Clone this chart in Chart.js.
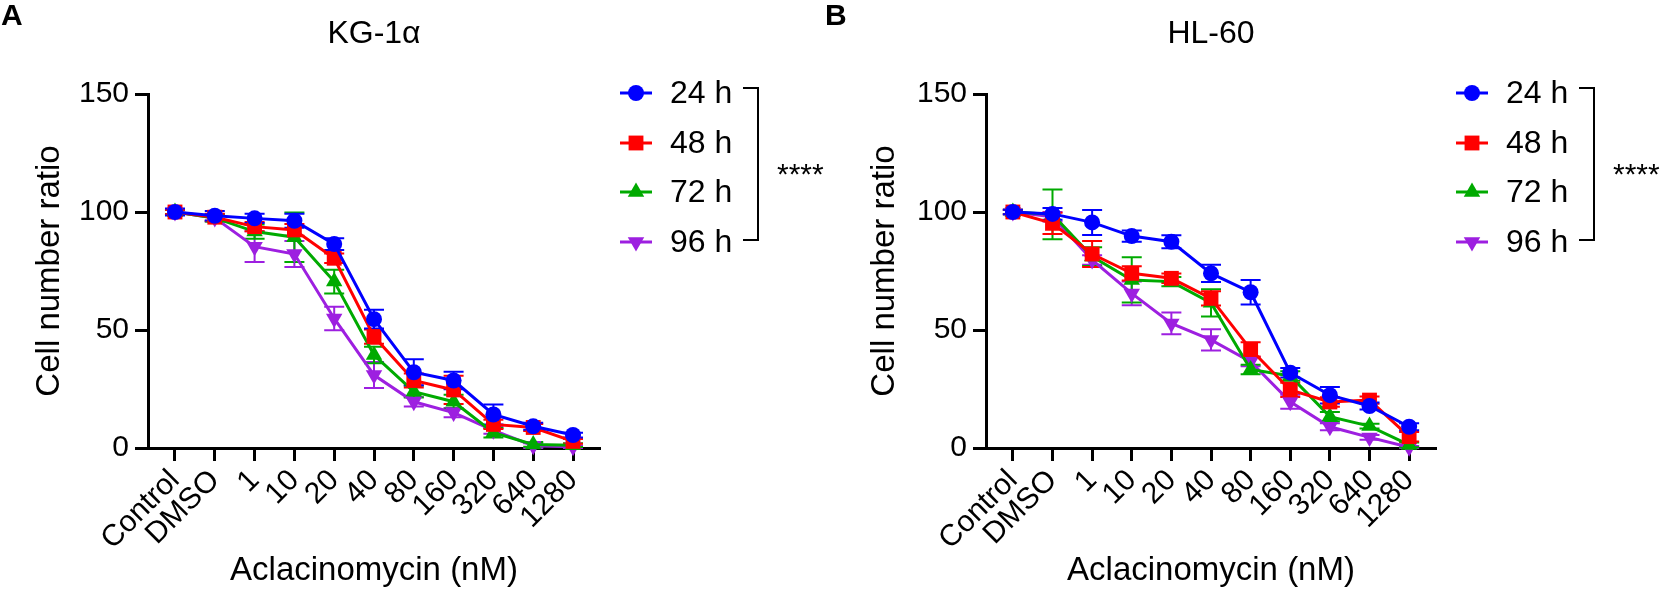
<!DOCTYPE html>
<html>
<head>
<meta charset="utf-8">
<script src="https://cdn.jsdelivr.net/npm/chart.js@4"></script>
<style>
  html, body { margin: 0; padding: 0; background: #fff; }
  body { width: 1661px; height: 591px; position: relative; overflow: hidden; }
  canvas { position: absolute; top: 0; }
</style>
</head>
<body>
<canvas id="chartA" width="830" height="591" style="left:0"></canvas>
<canvas id="chartB" width="871" height="591" style="left:790px"></canvas>
<script>
const categories = ['Control', 'DMSO', '1', '10', '20', '40', '80', '160', '320', '640', '1280'];
const seriesLabels = ['24 h', '48 h', '72 h', '96 h'];
const seriesColors = ['#0000ff', '#ff0000', '#00aa00', '#9d1fe0'];
const seriesStyles = ['circle', 'rect', 'triangle', 'triangle'];
const seriesRotation = [0, 0, 0, 180];
const seriesRadius = [8, 10.5, 9.5, 9.5];

// KG-1a
const kg24 = [100, 98.4, 97.3, 96.3, 86.4, 54.6, 32.1, 28.6, 14.2, 9.2, 5.5];
const kg48 = [100, 97.8, 93.8, 92.4, 80.4, 47.2, 28.6, 24.6, 10.0, 8.7, 2.8];
const kg72 = [100, 97.5, 91.7, 89.3, 70.5, 39.4, 23.9, 19.6, 6.5, 1.5, 1.2];
const kg96 = [100, 97.5, 85.3, 82.2, 54.9, 30.9, 19.6, 15.0, 7.5, 1.0, 0.5];
const kg24Err = [1.5, 2, 2, 3, 2.5, 4, 5.5, 3.7, 4.2, 1.5, 1];
const kg48Err = [1, 1.5, 2, 2.5, 2, 3, 3, 6, 2, 1.5, 1];
const kg72Err = [1, 1.5, 3, 10.5, 5, 3.5, 2.5, 3, 2, 1, 0.8];
const kg96Err = [1, 1.5, 6.5, 5.5, 5, 5.5, 2, 2, 1.5, 1, 0.5];

// HL-60
const hl24 = [100, 99.2, 95.6, 89.8, 87.4, 74.0, 66.0, 31.9, 22.4, 17.8, 9.0];
const hl48 = [100, 95.2, 82.2, 74.0, 71.9, 63.4, 41.8, 24.6, 19.5, 20.3, 4.8];
const hl72 = [100, 99.0, 81.1, 71.2, 70.5, 61.5, 33.3, 30.5, 13.3, 9.3, 1.3];
const hl96 = [100, 98.0, 79.7, 65.5, 52.8, 45.8, 36.6, 19.6, 9.0, 4.5, 0.3];
const hl24Err = [1, 2.5, 5.3, 2.4, 2.8, 3.7, 5.2, 2, 3.5, 1.5, 1.5];
const hl48Err = [1, 4.5, 5.5, 3, 2, 3, 3, 3, 2, 1.5, 2];
const hl72Err = [1, 10.5, 4, 9.6, 2, 5.8, 2, 2, 2, 1, 1];
const hl96Err = [1, 2, 2, 5, 4.6, 4.5, 2, 3, 1.5, 1, 0.5];

const yTicks = [0, 50, 100, 150];
const yTitle = 'Cell number ratio';
const xTitle = 'Aclacinomycin (nM)';
const significance = '****';

Chart.defaults.font.family = "'Liberation Sans', Arial, Helvetica, sans-serif";
Chart.defaults.color = '#000';

// mean +/- error whiskers, drawn under the markers
const errorBars = {
    id: 'errorBars',
    beforeDatasetsDraw(chart) {
        const { ctx, scales: { x, y } } = chart;
        const sets = chart.data.datasets;
        for (let i = sets.length - 1; i >= 0; i--) {
            const ds = sets[i];
            ctx.save();
            ctx.strokeStyle = ds.borderColor;
            ctx.lineWidth = 2;
            ds.data.forEach((p, j) => {
                const e = ds.errors[j];
                const px = x.getPixelForValue(p.x);
                const top = y.getPixelForValue(p.y + e);
                const bot = y.getPixelForValue(Math.max(p.y - e, 0));
                ctx.beginPath();
                ctx.moveTo(px, top); ctx.lineTo(px, bot);
                ctx.moveTo(px - 10, top); ctx.lineTo(px + 10, top);
                ctx.moveTo(px - 10, bot); ctx.lineTo(px + 10, bot);
                ctx.stroke();
            });
            ctx.restore();
        }
    }
};

// legend, bracket with stars, panel title and letter
const decorations = {
    id: 'decorations',
    afterDraw(chart, args, opts) {
        const { ctx, chartArea } = chart;
        const r = chartArea.right;
        const rows = [93, 143, 192, 242];
        ctx.save();
        chart.data.datasets.forEach((ds, i) => {
            const yy = rows[i];
            ctx.strokeStyle = ds.borderColor;
            ctx.fillStyle = ds.borderColor;
            ctx.lineWidth = 3;
            ctx.beginPath();
            ctx.moveTo(r + 20, yy); ctx.lineTo(r + 52, yy);
            ctx.stroke();
            Chart.helpers.drawPoint(ctx, {
                pointStyle: ds.pointStyle, radius: ds.pointRadius,
                rotation: ds.pointRotation, borderWidth: 0
            }, r + 36, yy);
            ctx.fillStyle = '#000';
            ctx.font = "32px 'Liberation Sans', Arial, sans-serif";
            ctx.textAlign = 'left';
            ctx.textBaseline = 'middle';
            ctx.fillText(ds.label, r + 70, yy + 1);
        });
        ctx.strokeStyle = '#000';
        ctx.lineWidth = 2;
        ctx.beginPath();
        ctx.moveTo(r + 143, 88); ctx.lineTo(r + 158, 88);
        ctx.lineTo(r + 158, 240); ctx.lineTo(r + 143, 240);
        ctx.stroke();
        ctx.fillStyle = '#000';
        ctx.font = "30px 'Liberation Sans', Arial, sans-serif";
        ctx.textBaseline = 'alphabetic';
        ctx.fillText(significance, r + 177, 184);
        ctx.font = "32px 'Liberation Sans', Arial, sans-serif";
        ctx.textAlign = 'center';
        ctx.fillText(opts.title, (chartArea.left + chartArea.right) / 2, 43);
        ctx.font = "bold 30px 'Liberation Sans', Arial, sans-serif";
        ctx.textAlign = 'left';
        ctx.fillText(opts.panel, opts.panelX, 25);
        ctx.restore();
    }
};

function makeChart(id, values, errors, title, panel, panelX, axisWidth, padRight, yTitlePad) {
    const datasets = values.map((vals, i) => ({
        label: seriesLabels[i],
        data: vals.map((v, j) => ({ x: j, y: v })),
        errors: errors[i],
        borderColor: seriesColors[i],
        backgroundColor: seriesColors[i],
        borderWidth: 3,
        pointStyle: seriesStyles[i],
        pointRotation: seriesRotation[i],
        pointRadius: seriesRadius[i],
        pointHoverRadius: seriesRadius[i],
        pointBorderWidth: 0,
        tension: 0,
        clip: false
    }));
    return new Chart(document.getElementById(id), {
        type: 'line',
        data: { datasets },
        plugins: [errorBars, decorations],
        options: {
            responsive: false,
            animation: false,
            layout: { padding: { left: 0, top: 94, right: padRight, bottom: 0 } },
            plugins: {
                legend: { display: false },
                tooltip: { enabled: false },
                decorations: { title, panel, panelX }
            },
            scales: {
                x: {
                    type: 'linear',
                    min: -0.678,
                    max: categories.length - 1 + 0.678,
                    afterBuildTicks: s => { s.ticks = categories.map((c, i) => ({ value: i })); },
                    afterFit: s => { s.height = 143; },
                    ticks: {
                        autoSkip: false, minRotation: 45, maxRotation: 45,
                        callback: v => categories[v],
                        color: '#000', font: { size: 30 }, padding: 2
                    },
                    grid: { drawOnChartArea: false, tickLength: 13, tickWidth: 3, tickColor: '#000' },
                    border: { color: '#000', width: 3 },
                    title: { display: true, text: xTitle, color: '#000', font: { size: 33 }, padding: { top: 0, bottom: 0 } }
                },
                y: {
                    min: 0, max: 150,
                    afterBuildTicks: s => { s.ticks = yTicks.map(v => ({ value: v })); },
                    afterFit: s => { s.width = axisWidth; },
                    ticks: { color: '#000', font: { size: 30 }, padding: 6 },
                    grid: { drawOnChartArea: false, tickLength: 13, tickWidth: 3, tickColor: '#000' },
                    border: { color: '#000', width: 3 },
                    title: { display: true, text: yTitle, color: '#000', font: { size: 33 }, padding: { top: yTitlePad, bottom: 0 } }
                }
            }
        }
    });
}

makeChart('chartA', [kg24, kg48, kg72, kg96], [kg24Err, kg48Err, kg72Err, kg96Err],
    'KG-1α', 'A', 1, 148, 230, 30);
makeChart('chartB', [hl24, hl48, hl72, hl96], [hl24Err, hl48Err, hl72Err, hl96Err],
    'HL-60', 'B', 35, 196, 225, 75);
</script>
</body>
</html>
